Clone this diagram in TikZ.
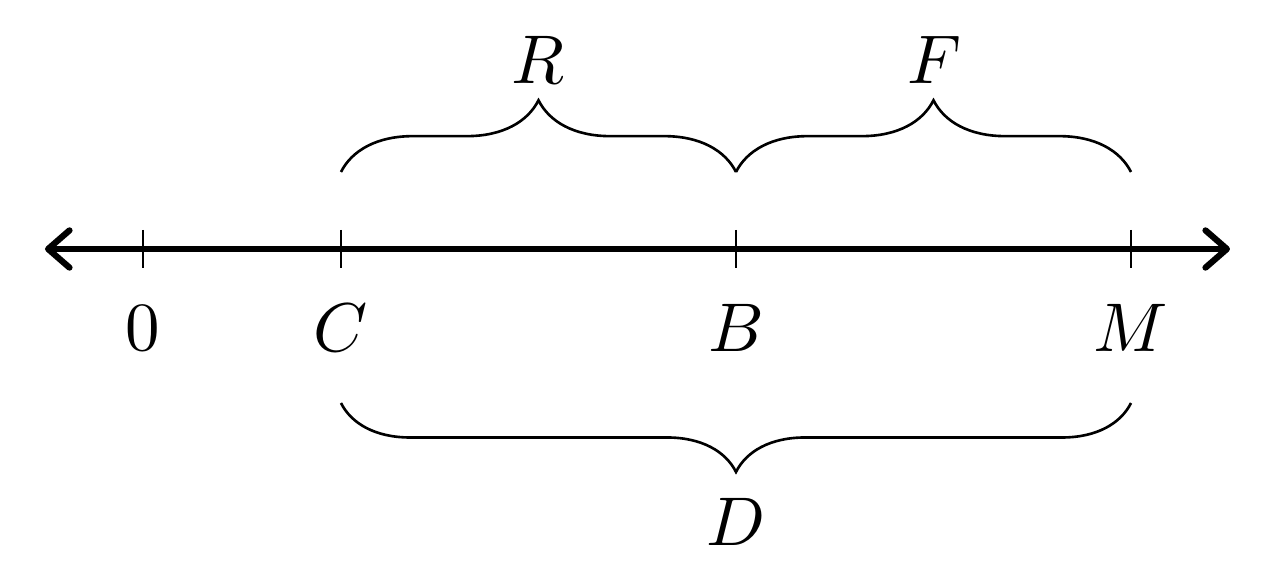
\documentclass[tikz,border=0pt]{standalone}
\usetikzlibrary{arrows.meta,decorations.pathreplacing}
\begin{document}
\begin{tikzpicture}[x=0.145pt,y=-0.145pt,
  axisline/.style={line width=0.9pt,{Straight Barb[length=3.1pt,width=5.4pt,line cap=round,round]}-{Straight Barb[length=3.1pt,width=5.4pt,line cap=round,round]}},
  tick/.style={line width=0.3pt},
  lbl/.style={inner sep=0pt,font=\fontsize{10}{12}\selectfont},
  bracestyle/.style={line width=0.38pt,decorate,decoration={brace,amplitude=#1}}]
\useasboundingbox (0,0) rectangle (1279,576);
% axis
\coordinate (L) at (45,249);
\coordinate (Rt) at (1230,249);
\draw[axisline] (L) -- (Rt);
% ticks
\foreach \n/\x in {t0/143,tC/341,tB/736,tM/1131}{
  \coordinate (\n) at (\x,249);
  \draw[tick] (\x,230) -- (\x,268);
}
% tick labels
\node[lbl] (n0) at (143,328) {$0$};
\node[lbl] (nC) at (341,328) {$C$};
\node[lbl] (nB) at (736,328) {$B$};
\node[lbl] (nM) at (1131,328) {$M$};
% brace end points
\coordinate (uC) at (341,172);
\coordinate (uB) at (736,172);
\coordinate (uM) at (1131,172);
\coordinate (dC) at (341,403);
\coordinate (dM) at (1131,403);
\draw[bracestyle=10.4pt] (uC) -- (uB);
\draw[bracestyle=10.4pt] (uB) -- (uM);
\draw[bracestyle=10pt] (dM) -- (dC);
% brace labels
\node[lbl] (nR) at (538,60) {$R$};
\node[lbl] (nF) at (934,60) {$F$};
\node[lbl] (nD) at (736,522) {$D$};
\end{tikzpicture}
\end{document}
